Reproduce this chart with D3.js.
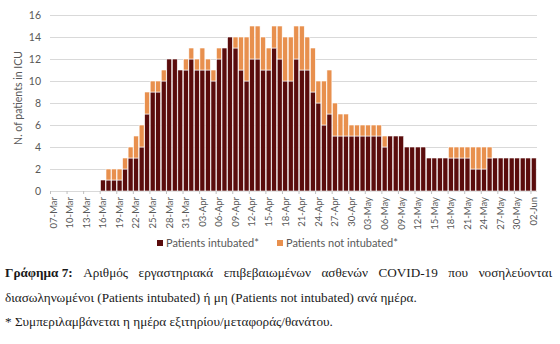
<!DOCTYPE html>
<html>
<head>
<meta charset="utf-8">
<script src="https://cdn.jsdelivr.net/npm/d3@7"></script>
<style>
  html, body { margin: 0; padding: 0; background: #fff; }
  svg { display: block; }
</style>
</head>
<body>
<script>
// Daily ICU census, 07-Mar to 02-Jun
const parseDay = d3.timeParse("%Y-%m-%d");
const formatDay = d3.timeFormat("%d-%b");
const days = d3.timeDay.range(parseDay("2020-03-07"), parseDay("2020-06-03")).map(formatDay);

const intubated = [
  0,0,0,0,0,0,0,0,0,
  1,1,1,1,2,3,3,4,7,9,9,10,12,12,11,11,
  12,11,11,11,10,12,13,14,13,11,10,12,12,11,11,13,12,10,10,12,11,11,9,8,6,7,5,5,5,5,
  5,5,5,5,5,4,5,5,5,4,4,4,4,3,3,3,3,3,3,3,3,2,2,2,3,3,3,3,3,3,3,
  3,3
];
const notIntubated = [
  0,0,0,0,0,0,0,0,0,
  0,1,1,1,1,1,2,2,2,1,1,1,0,0,0,1,
  1,1,2,1,1,1,0,0,1,3,4,3,3,3,2,2,3,4,4,3,4,3,4,2,4,4,3,2,2,1,
  1,1,1,1,1,1,0,0,0,0,0,0,0,0,0,0,0,1,1,1,1,2,2,2,1,0,0,0,0,0,0,
  0,0
];
const seriesNames = ["Patients intubated*", "Patients not intubated*"];
const seriesColors = ["#5a0c0c", "#e8904e"];
const yTicks = [0, 2, 4, 6, 8, 10, 12, 14, 16];

const W = 560, H = 344;
const svg = d3.select("body").append("svg").attr("width", W).attr("height", H);

const rows = days.map((d, i) => ({ day: d, a: intubated[i], b: notIntubated[i] }));
const stacked = d3.stack().keys(["a", "b"])(rows);

const x = d3.scaleBand().domain(days).range([50.5, 536.5]).paddingInner(0.1).paddingOuter(0.05);
const y = d3.scaleLinear().domain([0, 16]).range([191, 15]);

const chartFont = "Lato, 'Open Sans', sans-serif";
const textGrey = "#595959";

// Horizontal gridlines
svg.append("g")
  .selectAll("line")
  .data(yTicks)
  .join("line")
  .attr("x1", 50).attr("x2", 537)
  .attr("y1", d => Math.round(y(d)) + 0.5).attr("y2", d => Math.round(y(d)) + 0.5)
  .attr("stroke", "#d9d9d9").attr("stroke-width", 1);

// Y axis labels
const yAxis = svg.append("g")
  .attr("transform", "translate(50,0)")
  .call(d3.axisLeft(y).tickValues(yTicks).tickSize(0).tickPadding(9));
yAxis.select(".domain").remove();
yAxis.selectAll("text")
  .attr("fill", textGrey).style("font-family", chartFont).style("font-size", "10.5px");

svg.append("text")
  .attr("transform", "translate(22,98) rotate(-90)")
  .attr("text-anchor", "middle")
  .attr("fill", textGrey)
  .style("font-family", chartFont).style("font-size", "10.5px")
  .text("N. of patients in ICU");

// Stacked bars
svg.append("g")
  .selectAll("g")
  .data(stacked)
  .join("g")
  .attr("fill", (d, i) => seriesColors[i])
  .selectAll("rect")
  .data(d => d.filter(s => s[1] > s[0]))
  .join("rect")
  .attr("x", d => x(d.data.day))
  .attr("width", x.bandwidth())
  .attr("y", d => y(d[1]))
  .attr("height", d => y(d[0]) - y(d[1]))
  .attr("stroke", "#fff")
  .attr("stroke-width", 0.6);

// X axis: every third day labelled
const labelled = days.filter((d, i) => i % 3 === 0);
const xAxis = svg.append("g")
  .attr("transform", "translate(0,191)")
  .call(d3.axisBottom(x).tickValues(labelled).tickSize(3).tickPadding(3));
xAxis.select(".domain").remove();
xAxis.selectAll(".tick line").attr("stroke", "#bfbfbf")
  .attr("transform", `translate(${-x.step() / 2},0)`);
xAxis.selectAll("text")
  .attr("fill", textGrey).style("font-family", chartFont).style("font-size", "9.5px")
  .attr("text-anchor", "end")
  .attr("dy", "0.35em")
  .attr("transform", "translate(0,3) rotate(-90)")
  .attr("x", -3).attr("y", 0);

// Legend
const legend = svg.append("g").style("font-family", chartFont).style("font-size", "11px");
const legendX = [157, 277];
seriesNames.forEach((name, i) => {
  legend.append("rect").attr("x", legendX[i]).attr("y", 240).attr("width", 6).attr("height", 6)
    .attr("fill", seriesColors[i]);
  legend.append("text").attr("x", legendX[i] + 9).attr("y", 247).attr("fill", textGrey).text(name);
});

// Caption
const capFont = "'Liberation Serif', 'DejaVu Serif', serif";
const capSize = "13.2px";
const cap = svg.append("g").style("font-family", capFont).style("font-size", capSize).attr("fill", "#1a1a1a");

// First line: justified between the two margins
const line1 = [
  { t: "Γράφημα 7:", bold: true },
  { t: "Αριθμός" }, { t: "εργαστηριακά" }, { t: "επιβεβαιωμένων" }, { t: "ασθενών" },
  { t: "COVID-19" }, { t: "που" }, { t: "νοσηλεύονται" }
];
const left = 5, right = 552;
const words = line1.map(w => {
  const el = cap.append("text").attr("y", 277).attr("font-weight", w.bold ? "bold" : null).text(w.t);
  return { el, w: el.node().getComputedTextLength() };
});
const total = d3.sum(words, d => d.w);
const gap = (right - left - total) / (words.length - 1);
let cx = left;
words.forEach(d => { d.el.attr("x", cx); cx += d.w + gap; });

cap.append("text").attr("x", left).attr("y", 302)
  .text("διασωληνωμένοι (Patients intubated) ή μη (Patients not intubated) ανά ημέρα.");
cap.append("text").attr("x", left).attr("y", 326)
  .text("* Συμπεριλαμβάνεται η ημέρα εξιτηρίου/μεταφοράς/θανάτου.");
</script>
</body>
</html>
